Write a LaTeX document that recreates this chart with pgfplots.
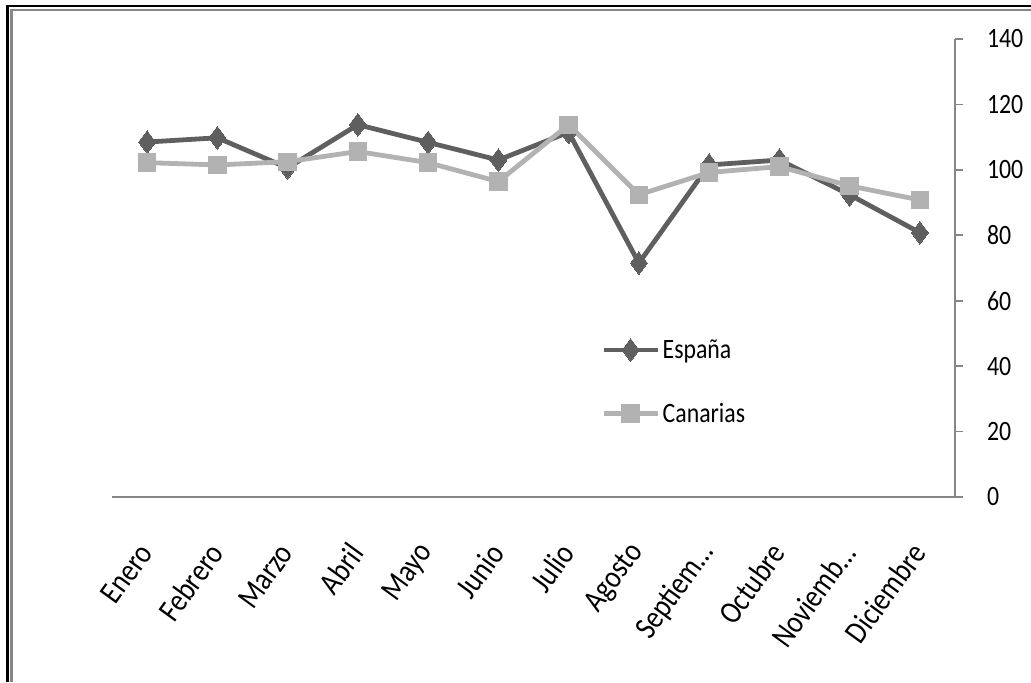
\documentclass[border=0pt]{standalone}
\usepackage{fontspec}
\setmainfont{Carlito}[FakeStretch=0.85]
\usepackage{pgfplots}
\pgfplotsset{compat=1.18}
\definecolor{espc}{HTML}{5F5F5F}
\definecolor{canc}{HTML}{B2B2B2}
\definecolor{axc}{HTML}{868686}
\begin{document}
\begin{tikzpicture}[x=1pt,y=1pt]
\useasboundingbox (0,0) rectangle (773.25,511.5);
% frame
\draw[black, line width=2.2pt] (5.6,0) -- (5.6,507) -- (773.25,507);
\draw[axc, line width=2.2pt] (8.6,0) -- (8.6,504) -- (773.25,504);
\begin{axis}[
  at={(84pt,138.75pt)}, anchor=south west,
  scale only axis, width=632.25pt, height=343.5pt,
  xmin=-0.5, xmax=11.5, ymin=0, ymax=140,
  axis x line*=bottom, axis y line*=right,
  axis line style={axc, line width=1.2pt},
  /pgf/number format/assume math mode=true,
  xtick={0,1,2,3,4,5,6,7,8,9,10,11},
  xticklabels={Enero,Febrero,Marzo,Abril,Mayo,Junio,Julio,Agosto,{Septiem…},Octubre,{Noviemb…},Diciembre},
  x tick label style={font=\fontsize{24}{26}\selectfont, black, xshift=1pt, yshift=-29pt, rotate=54, anchor=east},
  major x tick style={draw=none},
  extra x ticks={-0.5,0.5,1.5,2.5,3.5,4.5,5.5,6.5,7.5,8.5,9.5,10.5,11.5},
  extra x tick labels={},
  extra x tick style={tick style={axc, line width=1.2pt}, major tick length=7pt, tick align=outside},
  ytick={0,20,40,60,80,100,120,140},
  y tick label style={font=\fontsize{21}{23}\selectfont, black, xshift=14.5pt, anchor=west},
  y tick style={axc, line width=1.2pt},
  major tick length=6pt, tick align=outside,
  legend style={at={(rel axis cs:0.58,0.35)}, anchor=north west, draw=none, fill=none,
    font=\fontsize{21}{23}\selectfont, row sep=28pt, inner sep=0pt},
  legend cell align=left,
  legend image code/.code={
    \draw[#1, mark=none] (0pt,0pt) -- (40.5pt,0pt);
    \draw[#1, only marks] plot coordinates {(20.25pt,0pt)};
  },
  clip=false,
]
\addplot[color=espc, line width=3.6pt, mark=diamond*, mark size=8.5pt, mark options={solid, fill=espc, draw=espc, line width=0pt}]
  coordinates {(0,108.5) (1,109.8) (2,100.6) (3,113.8) (4,108.4) (5,103) (6,111.5) (7,71.5) (8,101.5) (9,103) (10,92.4) (11,80.8)};
\addlegendentry{España}
\addplot[color=canc, line width=3.6pt, mark=square*, mark size=6.5pt, mark options={solid, fill=canc, draw=canc, line width=0pt}]
  coordinates {(0,102.2) (1,101.5) (2,102.5) (3,105.6) (4,102.2) (5,96.4) (6,113.8) (7,92.4) (8,99.2) (9,101) (10,95.1) (11,90.8)};
\addlegendentry{Canarias}
\end{axis}
\end{tikzpicture}
\end{document}
